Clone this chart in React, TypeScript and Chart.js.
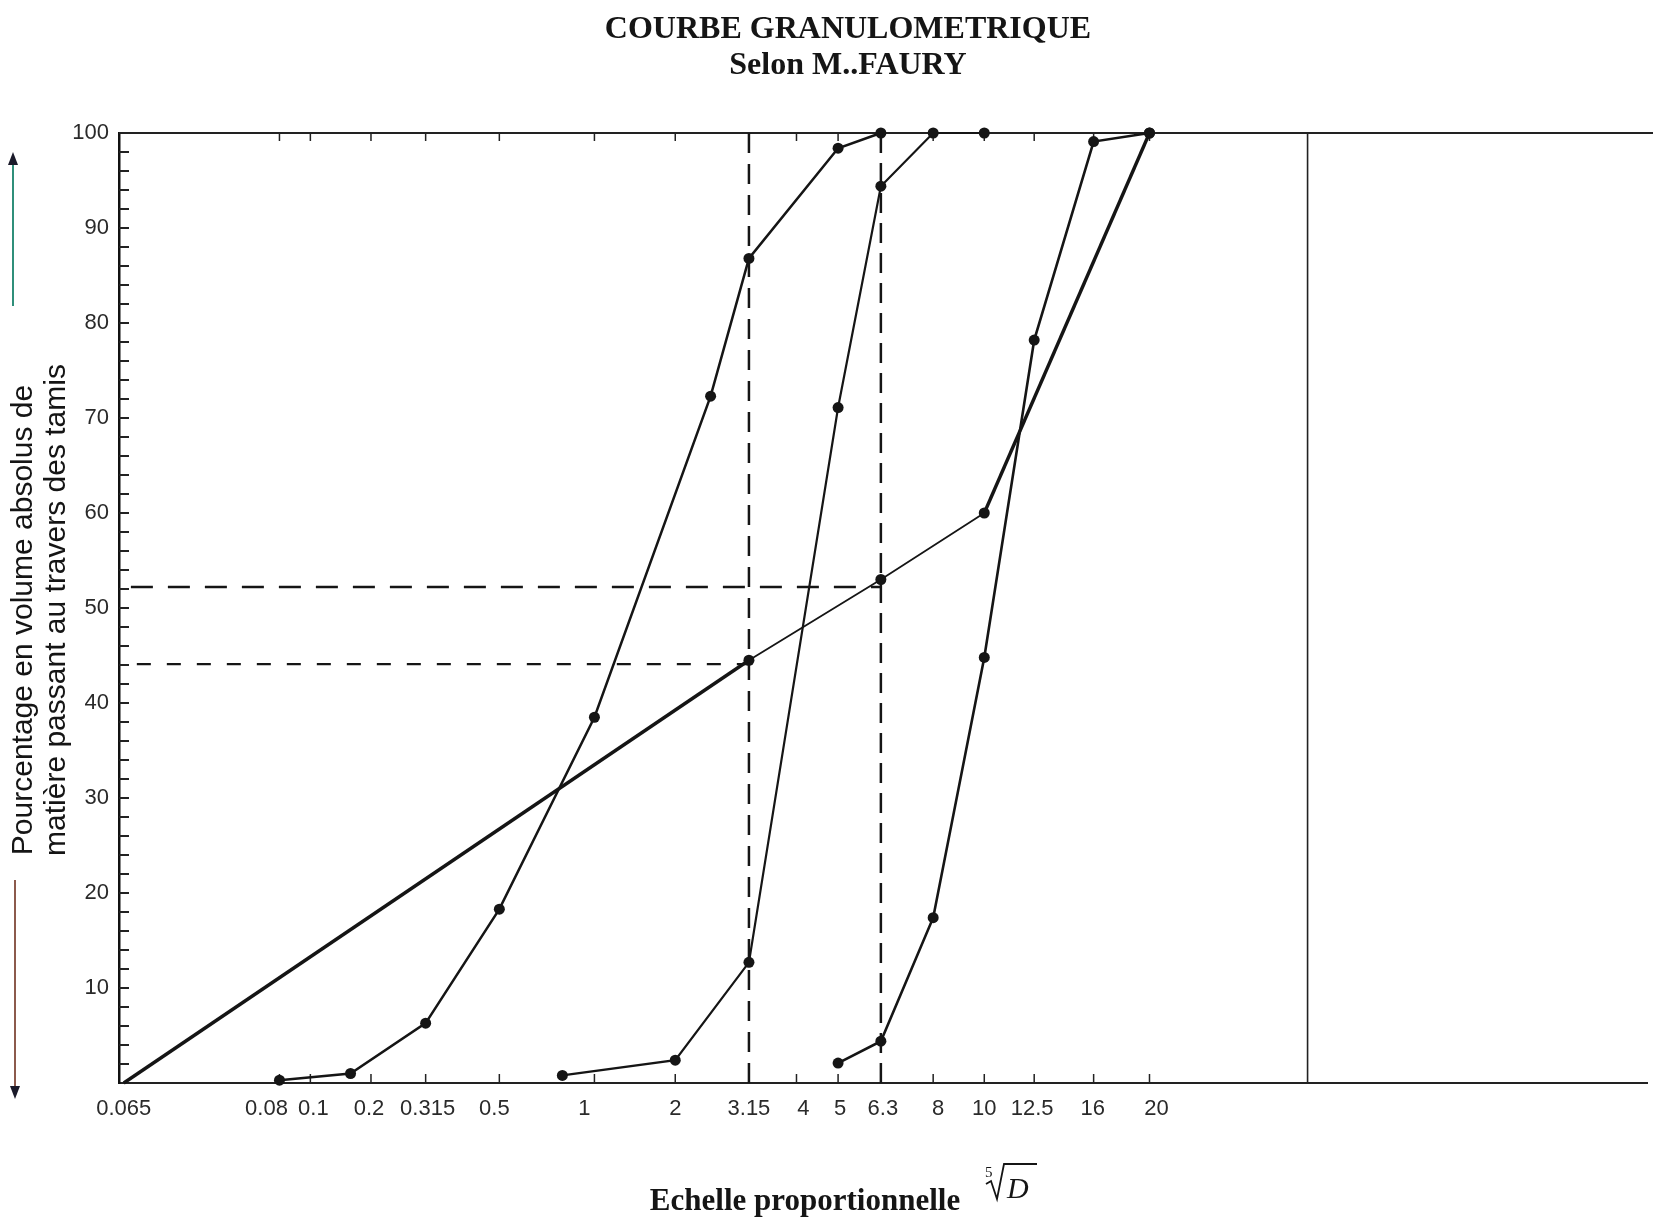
import React, { useEffect, useRef } from 'react';
import { Chart, registerables } from 'chart.js';

Chart.register(...registerables);

// ---- sieve scale (non-uniform fifth-root scale as drawn on the sheet) ----
const sieveSizes = [0.065, 0.08, 0.1, 0.2, 0.315, 0.5, 1, 2, 3.15, 4, 5, 6.3, 8, 10, 12.5, 16, 20];
const sieveLabels = ['0.065', '0.08', '0.1', '0.2', '0.315', '0.5', '1', '2', '3.15', '4', '5', '6.3', '8', '10', '12.5', '16', '20'];
// station of each sieve along the axis, in % of the framed width
const sieveStations = [0.4, 13.5, 16.1, 21.2, 25.8, 32.0, 40.0, 46.8, 53.0, 57.0, 60.5, 64.1, 68.5, 72.8, 77.0, 82.0, 86.7];
const labelNudge = [0, -13, 3, -2, 2, -5, -10, 0, 0, 7, 2, 2, 5, 0, -2, -1, 7];

// ---- curves (D in mm, % passing) ----
const sandD = [0.08, 0.16, 0.315, 0.5, 1, 2.5, 3.15, 5, 6.3];
const sandPass = [0.3, 1.0, 6.3, 18.3, 38.5, 72.3, 86.8, 98.4, 100];

const gravel38D = [0.8, 2, 3.15, 5, 6.3, 8, 10];
const gravel38Pass = [0.8, 2.4, 12.7, 71.1, 94.4, 100, 100];

const gravel820D = [5, 6.3, 8, 10, 12.5, 16, 20];
const gravel820Pass = [2.1, 4.4, 17.4, 44.8, 78.2, 99.1, 100];

const refD = [0.065, 3.15, 6.3, 10, 20];
const refPass = [0, 44.5, 53, 60, 100];

// read-off guide lines: sieve and level
const guideD = [3.15, 6.3];
const guideLevel = [44.1, 52.2];

const yTicks = [10, 20, 30, 40, 50, 60, 70, 80, 90, 100];

const FRAME_END = 100;
const X_MAX = 128.6;

function toAxis(d: number): number {
  const r = (v: number) => Math.pow(v, 0.2);
  if (d <= sieveSizes[0]) return sieveStations[0];
  for (let i = 0; i < sieveSizes.length - 1; i++) {
    const a = sieveSizes[i];
    const b = sieveSizes[i + 1];
    if (d >= a && d <= b) {
      const f = (r(d) - r(a)) / (r(b) - r(a));
      return sieveStations[i] + f * (sieveStations[i + 1] - sieveStations[i]);
    }
  }
  return sieveStations[sieveStations.length - 1];
}

const pts = (ds: number[], ps: number[]) => ds.map((d, i) => ({ x: toAxis(d), y: ps[i] }));

const INK = '#151515';

const faury = {
  id: 'faury',
  beforeDatasetsDraw(chart: any) {
    const { ctx, chartArea: a, scales } = chart;
    const x = scales.x;
    const y = scales.y;
    const y100 = y.getPixelForValue(100);
    const y0 = y.getPixelForValue(0);
    ctx.save();
    ctx.strokeStyle = '#222';
    ctx.lineWidth = 2;
    ctx.beginPath();
    ctx.moveTo(a.left, y100);
    ctx.lineTo(chart.width, y100);
    ctx.stroke();
    const xr = x.getPixelForValue(FRAME_END);
    ctx.lineWidth = 1.6;
    ctx.beginPath();
    ctx.moveTo(xr, y100);
    ctx.lineTo(xr, y0);
    ctx.stroke();
    ctx.lineWidth = 2;
    for (let v = 2; v < 100; v += 2) {
      const py = y.getPixelForValue(v);
      ctx.beginPath();
      ctx.moveTo(a.left, py);
      ctx.lineTo(a.left + 10, py);
      ctx.stroke();
    }
    ctx.lineWidth = 1.5;
    sieveStations.forEach((s, i) => {
      if (i === 0) return;
      const px = x.getPixelForValue(s);
      ctx.beginPath();
      ctx.moveTo(px, y0);
      ctx.lineTo(px, y0 - 9);
      ctx.moveTo(px, y100);
      ctx.lineTo(px, y100 + 8);
      ctx.stroke();
    });
    ctx.restore();
  },
  afterDraw(chart: any) {
    const { ctx, scales } = chart;
    const x = scales.x;
    ctx.save();
    ctx.fillStyle = INK;
    ctx.textAlign = 'center';
    ctx.textBaseline = 'alphabetic';
    ctx.font = 'bold 32px "Liberation Serif"';
    ctx.fillText('COURBE GRANULOMETRIQUE', 848, 38);
    ctx.fillText('Selon M..FAURY', 848, 74);

    // x tick labels
    ctx.fillStyle = '#2a2a2a';
    ctx.font = '22px "Liberation Sans"';
    sieveLabels.forEach((lab, i) => {
      ctx.fillText(lab, x.getPixelForValue(sieveStations[i]) + labelNudge[i], 1115);
    });

    // x title
    ctx.fillStyle = INK;
    ctx.font = 'bold 31px "Liberation Serif"';
    ctx.fillText('Echelle proportionnelle', 805, 1210);
    ctx.textAlign = 'left';
    ctx.font = '15px "Liberation Serif"';
    ctx.fillText('5', 985, 1177);
    ctx.font = 'italic 30px "Liberation Serif"';
    ctx.fillText('D', 1007, 1198);
    ctx.strokeStyle = INK;
    ctx.lineWidth = 1.8;
    ctx.lineJoin = 'miter';
    ctx.beginPath();
    ctx.moveTo(986, 1184);
    ctx.lineTo(991, 1181);
    ctx.lineTo(997, 1199);
    ctx.lineTo(1004, 1164);
    ctx.lineTo(1037, 1164);
    ctx.stroke();

    // y title
    ctx.font = '30px "Liberation Sans"';
    ctx.textAlign = 'center';
    ctx.textBaseline = 'middle';
    const lines = ['Pourcentage en volume absolus de', 'mati\u00e8re passant au travers des tamis'];
    const lx = [24, 57];
    const ly = [620, 610];
    lines.forEach((t, i) => {
      ctx.save();
      ctx.translate(lx[i], ly[i]);
      ctx.rotate(-Math.PI / 2);
      ctx.fillText(t, 0, 0);
      ctx.restore();
    });

    // arrows
    ctx.lineWidth = 2;
    ctx.strokeStyle = '#2f8f7a';
    ctx.beginPath();
    ctx.moveTo(13, 306);
    ctx.lineTo(13, 162);
    ctx.stroke();
    ctx.fillStyle = '#1a1a2a';
    ctx.beginPath();
    ctx.moveTo(13, 152);
    ctx.lineTo(8, 165);
    ctx.lineTo(18, 165);
    ctx.closePath();
    ctx.fill();
    ctx.strokeStyle = '#8c5a4c';
    ctx.beginPath();
    ctx.moveTo(15, 880);
    ctx.lineTo(15, 1088);
    ctx.stroke();
    ctx.beginPath();
    ctx.moveTo(15, 1099);
    ctx.lineTo(10, 1086);
    ctx.lineTo(20, 1086);
    ctx.closePath();
    ctx.fill();
    ctx.restore();
  },
};

export default function App() {
  const ref = useRef<HTMLCanvasElement | null>(null);
  useEffect(() => {
    if (!ref.current) return;
    const gx0 = toAxis(guideD[0]);
    const gx1 = toAxis(guideD[1]);
    const mark = { pointRadius: 5.5, pointBackgroundColor: INK, pointBorderWidth: 0 };
    const chart = new Chart(ref.current, {
      type: 'line',
      data: {
        datasets: [
          {
            data: [{ x: gx0, y: 100 }, { x: gx0, y: 0 }],
            borderColor: INK, borderWidth: 2.5, borderDash: [20, 11], pointRadius: 0,
          },
          {
            data: [{ x: gx1, y: 100 }, { x: gx1, y: 0 }],
            borderColor: INK, borderWidth: 2.5, borderDash: [20, 10], pointRadius: 0,
          },
          {
            data: [{ x: 1, y: guideLevel[1] }, { x: gx1, y: guideLevel[1] }],
            borderColor: INK, borderWidth: 2.5, borderDash: [22, 15], pointRadius: 0,
          },
          {
            data: [{ x: 1.5, y: guideLevel[0] }, { x: gx0, y: guideLevel[0] }],
            borderColor: INK, borderWidth: 2.2, borderDash: [14, 16], pointRadius: 0,
          },
          { data: pts(sandD, sandPass), borderColor: INK, borderWidth: 2.5, ...mark },
          { data: pts(gravel38D, gravel38Pass), borderColor: INK, borderWidth: 2.2, ...mark },
          { data: pts(gravel820D, gravel820Pass), borderColor: INK, borderWidth: 2.6, ...mark },
          {
            data: pts(refD, refPass),
            borderColor: INK,
            borderWidth: 2,
            ...mark,
            pointRadius: (c: any) => (c.dataIndex === 0 ? 0 : 5.5),
            segment: {
              borderWidth: (c: any) => (c.p0DataIndex === 0 || c.p0DataIndex === 3 ? 3.4 : 1.8),
            },
          },
        ],
      },
      options: {
        animation: false,
        responsive: false,
        clip: false as any,
        layout: { padding: { top: 133, left: 0, right: 0, bottom: 0 } },
        plugins: { legend: { display: false }, tooltip: { enabled: false }, title: { display: false } },
        elements: { line: { tension: 0 } },
        scales: {
          x: {
            type: 'linear',
            min: 0,
            max: X_MAX,
            grid: { display: false, drawTicks: false },
            border: { display: true, color: '#222', width: 2 },
            ticks: { display: false },
            afterFit: (s: any) => { s.height = 137; },
          },
          y: {
            type: 'linear',
            min: 0,
            max: 100,
            afterBuildTicks: (s: any) => { s.ticks = yTicks.map((v) => ({ value: v })); },
            grid: { display: false, drawTicks: false },
            border: { display: true, color: '#111', width: 2.5 },
            ticks: {
              padding: 10,
              color: '#2a2a2a',
              font: { family: '"Liberation Sans"', size: 22 },
              callback: (v: any) => String(v),
            },
            afterFit: (s: any) => { s.width = 119; },
          },
        },
      },
      plugins: [faury],
    });
    return () => chart.destroy();
  }, []);
  return (
    <div style={{ position: 'fixed', left: 0, top: 0, width: 1653, height: 1220, background: '#fff' }}>
      <canvas ref={ref} width={1653} height={1220} />
    </div>
  );
}
